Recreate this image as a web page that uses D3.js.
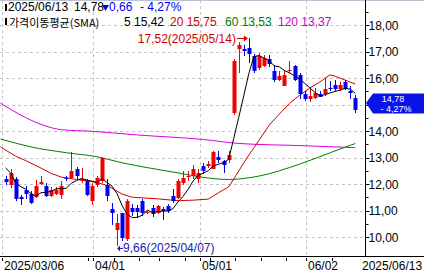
<!DOCTYPE html>
<html>
<head>
<meta charset="utf-8">
<script src="https://cdn.jsdelivr.net/npm/d3@7/dist/d3.min.js"></script>
<style>
  html, body { margin: 0; padding: 0; background: #fff; overflow: hidden; }
  svg { display: block; }
  text { font-family: "Liberation Sans", Arial, sans-serif; font-size: 12px; }
</style>
</head>
<body>
<div id="container"></div>
<script>
/**
 * DATA
 * */
const dates = [
  "2025/03/06","2025/03/07","2025/03/10","2025/03/11","2025/03/12","2025/03/13","2025/03/14",
  "2025/03/17","2025/03/18","2025/03/19","2025/03/20","2025/03/21","2025/03/24","2025/03/25",
  "2025/03/26","2025/03/27","2025/03/28","2025/03/31",
  "2025/04/01","2025/04/02","2025/04/03","2025/04/04","2025/04/07","2025/04/08","2025/04/09",
  "2025/04/10","2025/04/11","2025/04/14","2025/04/15","2025/04/16","2025/04/17","2025/04/21",
  "2025/04/22","2025/04/23","2025/04/24","2025/04/25","2025/04/28","2025/04/29","2025/04/30",
  "2025/05/01","2025/05/02","2025/05/05","2025/05/06","2025/05/07","2025/05/08","2025/05/09",
  "2025/05/12","2025/05/13","2025/05/14","2025/05/15","2025/05/16","2025/05/19","2025/05/20",
  "2025/05/21","2025/05/22","2025/05/23","2025/05/27","2025/05/28","2025/05/29","2025/05/30",
  "2025/06/02","2025/06/03","2025/06/04","2025/06/05","2025/06/06","2025/06/09","2025/06/10",
  "2025/06/11","2025/06/12","2025/06/13"
];
const opens = [
  12.20,11.98,12.20,11.50,11.79,11.63,11.52,12.01,11.92,11.54,11.63,11.57,12.23,12.23,12.55,12.11,12.11,11.35,
  11.98,12.11,11.98,11.06,10.28,10.89,9.91,11.10,11.10,11.35,10.89,11.10,10.91,11.06,11.16,11.54,11.48,12.04,12.27,12.29,12.17,
  12.67,12.67,12.57,13.03,12.86,12.90,14.69,17.08,17.08,17.14,16.82,16.38,16.47,16.70,16.26,15.94,15.69,16.26,16.45,16.13,15.38,
  15.22,15.25,15.38,15.38,15.63,15.75,15.57,15.84,15.52,15.25
];
const highs = [
  12.32,12.57,12.27,11.60,11.92,11.73,12.14,12.32,12.04,11.90,11.90,12.10,12.32,13.22,12.64,12.61,12.17,12.04,
  12.30,13.03,12.17,11.29,10.85,10.92,11.42,11.23,11.20,11.42,11.00,11.20,11.20,11.14,11.23,11.82,12.17,12.50,12.50,12.73,12.55,
  12.80,12.85,13.24,13.24,12.92,13.24,16.72,17.35,17.23,17.52,16.90,16.95,16.85,16.85,16.50,16.26,16.32,16.65,16.50,16.20,15.50,
  15.60,15.62,15.50,16.00,15.90,15.94,15.85,15.92,15.69,15.34
];
const lows = [
  11.98,11.86,11.35,11.19,11.42,11.26,11.48,11.98,11.52,11.50,11.58,11.42,12.10,12.17,12.17,12.04,11.54,11.19,
  11.90,12.05,11.35,10.47,9.66,9.85,9.85,10.78,10.72,10.80,10.85,10.75,10.85,10.66,10.92,11.29,11.42,11.98,12.13,12.20,12.04,
  12.36,12.60,12.57,12.80,12.42,12.80,14.60,16.20,16.82,16.57,16.20,16.30,16.40,16.42,15.85,15.88,15.69,16.20,15.88,15.19,15.12,
  15.10,15.20,15.28,15.31,15.50,15.50,15.50,15.55,15.22,14.69
];
const closes = [
  12.08,12.42,11.44,11.44,11.63,11.29,11.92,12.07,11.54,11.79,11.79,11.92,12.17,12.48,12.29,12.20,11.60,11.94,
  12.23,13.00,11.54,10.89,10.51,9.97,11.35,10.94,10.95,10.91,10.94,10.85,11.16,11.00,10.97,11.35,12.11,12.23,12.32,12.57,12.42,
  12.48,12.74,13.20,12.90,12.70,13.11,16.63,17.26,17.01,16.89,16.26,16.82,16.76,16.51,15.94,16.07,16.13,16.32,15.94,15.38,15.22,
  15.31,15.44,15.28,15.59,15.57,15.57,15.72,15.59,15.44,14.78
];

// first four 5-day averages need days before the window
const ma5Head = [12.61, 12.42, 12.04, 11.90];

// moving-average lines read at bar indexes
const ma20Idx = [-1, 2, 4, 7, 9, 11, 14, 17, 20, 23, 25, 30, 34, 37, 40, 42, 44, 45, 46, 47, 48, 49, 50, 52, 54, 56, 58, 60, 62, 64, 65, 67, 69];
const ma20Val = [13.40,13.05,12.88,12.60,12.40,12.26,12.17,12.11,11.95,11.62,11.50,11.44,11.37,11.39,11.43,11.67,11.89,12.18,12.49,12.80,13.10,13.37,13.65,14.22,14.64,15.04,15.35,15.62,15.85,16.12,16.07,15.92,15.77];
const ma60Idx = [-1, 5, 12, 18, 23, 30, 34, 39, 44, 50, 58, 65, 69];
const ma60Val = [13.70,13.40,13.18,13.03,12.80,12.55,12.42,12.25,12.17,12.30,12.75,13.25,13.53];
const ma120Idx = [-1, 3, 7, 11, 17, 26, 39, 46, 58, 69];
const ma120Val = [15.05,14.60,14.25,14.05,13.99,13.85,13.68,13.53,13.45,13.37];

const yTicks = [10, 11, 12, 13, 14, 15, 16, 17, 18];
const monthStarts = ["2025/03/06", "2025/04/01", "2025/05/01", "2025/06/02"];
const monthLabels = ["2025/03/06", "04/01", "05/01", "06/02"];

const lastClose = 14.78, change = -0.66, changePct = -4.27;
const maLegend = [
  { name: "5", value: "15,42" },
  { name: "20", value: "15,75" },
  { name: "60", value: "13,53" },
  { name: "120", value: "13,37" }
];
const hiText = "17,52(2025/05/14)", loText = "9,66(2025/04/07)";

/**
 * CONSTANTS AND GLOBALS
 * */
const width = 424, height = 276;
const plotRight = 365, plotBottom = 256;
const RED = "#f00000", BLUE = "#0000f0";
const fmt = v => d3.format(".2f")(v).replace(".", ",");
const parse = d3.timeParse("%Y/%m/%d");

const svg = d3.select("#container")
  .append("svg")
  .attr("width", width)
  .attr("height", height);

const x = d3.scaleBand()
  .domain(dates)
  .range([3, 3 + 5.07 * dates.length])
  .paddingInner(0);
const xi = i => x.range()[0] + x.step() * (i + 0.5); // centre of bar i (also for i = -1)

const y = d3.scaleLinear()
  .domain([10, 18])
  .range([237, 25]);

// first bar of every week -> small ticks under the axis
const weekStarts = dates.filter((d, i) => i > 0 && (parse(d) - parse(dates[i - 1])) / 864e5 > 1);

// frame
svg.append("line").attr("x1", 0).attr("x2", width).attr("y1", 0.5).attr("y2", 0.5)
  .attr("stroke", "#b8c4d4");

// grid
const grid = svg.append("g").attr("stroke", "#c4c4c4").attr("stroke-dasharray", "3,3");
grid.selectAll("line.h")
  .data(yTicks)
  .join("line")
  .attr("class", "h")
  .attr("x1", 0).attr("x2", plotRight)
  .attr("y1", d => Math.round(y(d)) + 0.5)
  .attr("y2", d => Math.round(y(d)) + 0.5);
grid.selectAll("line.v")
  .data(monthStarts)
  .join("line")
  .attr("class", "v")
  .attr("x1", d => Math.round(x(d)) - 0.5)
  .attr("x2", d => Math.round(x(d)) - 0.5)
  .attr("y1", 0).attr("y2", plotBottom);

// clip region
svg.append("clipPath").attr("id", "plot")
  .append("rect").attr("x", 0).attr("y", 0).attr("width", plotRight).attr("height", plotBottom);
const plot = svg.append("g").attr("clip-path", "url(#plot)");

// moving averages
const ma5 = closes.map((c, i) => i < 4 ? ma5Head[i] : d3.mean(closes.slice(i - 4, i + 1)));
const line = d3.line().x(d => xi(d[0])).y(d => y(d[1]));

plot.append("path")
  .datum(ma120Idx.map((d, k) => [d, ma120Val[k]]))
  .attr("fill", "none").attr("stroke", "#dd00dd").attr("stroke-width", 1)
  .attr("d", line.curve(d3.curveMonotoneX));
plot.append("path")
  .datum(ma60Idx.map((d, k) => [d, ma60Val[k]]))
  .attr("fill", "none").attr("stroke", "#008000").attr("stroke-width", 1)
  .attr("d", line.curve(d3.curveMonotoneX));
plot.append("path")
  .datum(ma20Idx.map((d, k) => [d, ma20Val[k]]))
  .attr("fill", "none").attr("stroke", "#d00000").attr("stroke-width", 1)
  .attr("d", line.curve(d3.curveLinear));

// candles
const candle = plot.selectAll("g.candle")
  .data(dates)
  .join("g")
  .attr("class", "candle");

candle.append("line")
  .attr("x1", (d, i) => Math.round(xi(i)) + 0.5)
  .attr("x2", (d, i) => Math.round(xi(i)) + 0.5)
  .attr("y1", (d, i) => Math.round(y(highs[i])))
  .attr("y2", (d, i) => Math.round(y(lows[i])))
  .attr("stroke", (d, i) => closes[i] >= opens[i] ? RED : BLUE);

candle.append("rect")
  .attr("x", (d, i) => Math.round(xi(i)) - 1.5)
  .attr("width", 4)
  .attr("y", (d, i) => Math.round(y(Math.max(opens[i], closes[i]))))
  .attr("height", (d, i) => Math.max(1, Math.round(y(Math.min(opens[i], closes[i]))) - Math.round(y(Math.max(opens[i], closes[i])))))
  .attr("fill", (d, i) => closes[i] >= opens[i] ? RED : BLUE);

// 5 day line on top
plot.append("path")
  .datum(ma5.map((v, i) => [i, v]))
  .attr("fill", "none").attr("stroke", "#000").attr("stroke-width", 1)
  .attr("d", line.curve(d3.curveLinear));

// high / low notes
const hiI = highs.indexOf(d3.max(highs)), loI = lows.indexOf(d3.min(lows));
svg.append("text")
  .attr("x", xi(hiI) - 13).attr("y", y(highs[hiI]) + 5)
  .attr("text-anchor", "end").attr("fill", "#d00000")
  .text(hiText);
svg.append("path")
  .attr("d", `M${xi(hiI) - 12},${Math.round(y(highs[hiI])) + 0.5}H${xi(hiI) - 2}`)
  .attr("stroke", "#d00000").attr("fill", "none");
svg.append("path")
  .attr("d", `M${xi(hiI) - 1},${Math.round(y(highs[hiI])) + 0.5}l-4,-3v6z`)
  .attr("fill", "#d00000");

svg.append("text")
  .attr("x", xi(loI) + 6).attr("y", y(lows[loI]) + 6)
  .attr("fill", "#2020b0")
  .text(loText);
svg.append("path")
  .attr("d", `M${xi(loI) + 6},${Math.round(y(lows[loI])) + 2.5}H${xi(loI) + 1}`)
  .attr("stroke", "#2020b0").attr("fill", "none");
svg.append("path")
  .attr("d", `M${xi(loI)},${Math.round(y(lows[loI])) + 2.5}l3,-3v6z`)
  .attr("fill", "#2020b0");

// right axis
const axis = svg.append("g").attr("transform", `translate(${plotRight + 0.5},0)`);
axis.append("line").attr("y1", 0).attr("y2", plotBottom).attr("stroke", "#000");
axis.selectAll("line.major")
  .data(yTicks)
  .join("line").attr("class", "major")
  .attr("x1", 0).attr("x2", 4)
  .attr("y1", d => Math.round(y(d)) + 0.5).attr("y2", d => Math.round(y(d)) + 0.5)
  .attr("stroke", "#000");
axis.selectAll("line.minor")
  .data(yTicks.map(d => d + 0.5))
  .join("line").attr("class", "minor")
  .attr("x1", 0).attr("x2", 3)
  .attr("y1", d => Math.round(y(d)) + 0.5).attr("y2", d => Math.round(y(d)) + 0.5)
  .attr("stroke", "#000");
axis.selectAll("text")
  .data(yTicks.filter(d => d !== 15))
  .join("text")
  .attr("x", 3).attr("y", d => y(d) + 4.5)
  .text(d => fmt(d));

// current price marker
const cy = Math.round(y(lastClose)) - 7;
svg.append("path")
  .attr("d", `M${plotRight + 1},${cy}L${plotRight + 8},${cy - 9.5}H${width}V${cy + 10.5}H${plotRight + 8}Z`)
  .attr("fill", "#0a14e6");
svg.append("text")
  .attr("x", 393).attr("y", cy - 1).attr("text-anchor", "middle")
  .attr("fill", "#fff").style("font-size", "9px")
  .text(fmt(lastClose));
svg.append("text")
  .attr("x", 396).attr("y", cy + 9.2).attr("text-anchor", "middle")
  .attr("fill", "#fff").style("font-size", "9px")
  .text("- " + fmt(Math.abs(changePct)) + "%");

// bottom axis
svg.append("line").attr("x1", 0).attr("x2", width)
  .attr("y1", plotBottom + 0.5).attr("y2", plotBottom + 0.5).attr("stroke", "#000");
const tickDates = Array.from(new Set(monthStarts.concat(weekStarts)))
  .filter(d => d === dates[0] || x(d) > 66);
svg.selectAll("line.xt")
  .data(tickDates)
  .join("line").attr("class", "xt")
  .attr("x1", d => Math.round(x(d)) - 0.5).attr("x2", d => Math.round(x(d)) - 0.5)
  .attr("y1", plotBottom + 2).attr("y2", plotBottom + 5)
  .attr("stroke", "#000");
svg.selectAll("text.xl")
  .data(monthStarts)
  .join("text").attr("class", "xl")
  .attr("x", (d, i) => i === 0 ? 4 : Math.round(x(d)) + 1)
  .attr("y", 270)
  .text((d, i) => monthLabels[i]);
svg.append("text").attr("x", 362).attr("y", 270).text(dates[dates.length - 1]);

// header
const head = svg.append("g").style("font-size", "11px");
head.append("rect").attr("x", 5).attr("y", 4).attr("width", 2).attr("height", 7).attr("fill", "#000");
head.append("rect").attr("x", 5).attr("y", 18).attr("width", 2).attr("height", 7).attr("fill", "#000");
head.append("text").attr("x", 8).attr("y", 11).text(dates[dates.length - 1]);
head.append("text").attr("x", 74).attr("y", 11).text(fmt(lastClose));
head.append("path").attr("d", "M102,5H109L105.5,11Z").attr("fill", BLUE);
head.append("text").attr("x", 109).attr("y", 11).attr("fill", BLUE).text(fmt(Math.abs(change)));
head.append("text").attr("x", 140).attr("y", 11).attr("fill", BLUE)
  .text("- " + fmt(Math.abs(changePct)) + "%");
head.append("text").attr("x", 9).attr("y", 26.5)
  .style("font-family", "'Noto Sans CJK KR', sans-serif").style("font-size", "11px")
  .text("가격이동평균(SMA)");
const legendX = [124, 170, 225, 278];
const legendColor = ["#000", "#d00000", "#008000", "#cc00cc"];
head.selectAll("text.leg")
  .data(maLegend)
  .join("text").attr("class", "leg")
  .attr("x", (d, i) => legendX[i]).attr("y", 26)
  .attr("fill", (d, i) => legendColor[i])
  .text(d => d.name + " " + d.value);
</script>
</body>
</html>
